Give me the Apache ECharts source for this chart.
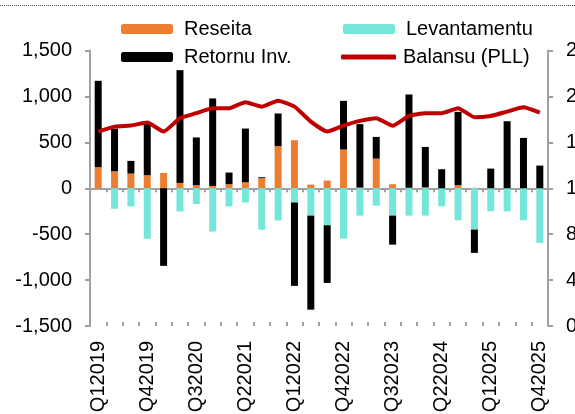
<!DOCTYPE html>
<html>
<head>
<meta charset="utf-8">
<script src="https://cdn.jsdelivr.net/npm/echarts@6/dist/echarts.min.js"></script>
<style>
  html, body { margin: 0; padding: 0; background: #fff; }
  #chart { width: 575px; height: 414px; }
</style>
</head>
<body>
<div id="chart"></div>
<script>
// quarters Q12019 .. Q42025
var quarters = [];
for (var y = 2019; y <= 2025; y++) {
  for (var q = 1; q <= 4; q++) quarters.push('Q' + q + y);
}

var reseita = [230, 185, 160, 142, 167, 58, 33, 25, 44, 65, 110, 458, 523, 40, 84, 422, 8, 323, 44, 5, 10, 0, 33, 5, 0, 0, 0, 0];
var levantamentu = [0, -223, -198, -550, 0, -253, -172, -471, -198, -155, -452, -351, -155, -298, -403, -548, -298, -189, -298, -298, -298, -196, -349, -450, -251, -251, -349, -595];
var retornuInv = [940, 465, 138, 563, -845, 1228, 520, 953, 127, 585, 10, 356, -908, -1024, -628, 530, 690, 236, -316, 1016, 440, 207, 799, -254, 214, 730, 548, 247];
var balansu = [1694, 1737, 1746, 1772, 1694, 1810, 1854, 1897, 1897, 1950, 1911, 1963, 1911, 1781, 1694, 1746, 1787, 1810, 1744, 1830, 1854, 1854, 1897, 1819, 1830, 1868, 1906, 1859];

var fontFam = 'Liberation Sans, Arial, sans-serif';
var axisGray = '#a0a0a0';
var legendText = { fontSize: 20, color: '#000', fontFamily: fontFam, padding: [0, 0, 0, 6] };

var chart = echarts.init(document.getElementById('chart'));
var option = {
  animation: false,
  textStyle: { fontFamily: fontFam },
  graphic: [{
    type: 'line',
    shape: { x1: 0, y1: 5.5, x2: 575, y2: 5.5 },
    style: { stroke: '#444', lineWidth: 1, lineDash: [1, 1] }
  }],
  legend: [{
    data: ['Reseita', 'Retornu Inv.'],
    orient: 'vertical',
    left: 121, top: 19, padding: 0,
    itemWidth: 52, itemHeight: 10, itemGap: 8,
    textStyle: legendText
  }, {
    data: ['Levantamentu'],
    left: 343, top: 19, padding: 0,
    itemWidth: 52, itemHeight: 10,
    textStyle: legendText
  }, {
    data: [{ name: 'Balansu (PLL)', icon: 'roundRect' }],
    left: 341, top: 47, padding: 0,
    itemWidth: 55, itemHeight: 5,
    textStyle: { fontSize: 20, color: '#000', fontFamily: fontFam, padding: [0, 0, 0, 2] }
  }],
  grid: { left: 90, right: 27, top: 50.5, bottom: 88, outerBoundsMode: 'none', containLabel: false },
  xAxis: [{
    type: 'category',
    data: quarters,
    position: 'bottom',
    axisLine: { show: false, onZero: false },
    axisTick: { show: false },
    axisLabel: { interval: 2, rotate: 90, margin: 15, fontSize: 20, color: '#000', fontFamily: fontFam }
  }, {
    type: 'category',
    data: quarters,
    position: 'bottom',
    axisLine: { show: true, onZero: true, lineStyle: { color: axisGray, width: 2 } },
    axisTick: { show: true, interval: 0, length: 4, lineStyle: { color: axisGray, width: 2 } },
    axisLabel: { show: false }
  }, {
    type: 'category',
    data: quarters,
    position: 'bottom',
    axisLine: { show: false, onZero: true },
    axisTick: { show: true, inside: true, interval: 0, length: 4, lineStyle: { color: axisGray, width: 2 } },
    axisLabel: { show: false }
  }],
  yAxis: [{
    type: 'value',
    min: -1500, max: 1500, interval: 500,
    axisLine: { show: true, lineStyle: { color: axisGray, width: 2 } },
    axisTick: { show: true, length: 5, lineStyle: { color: axisGray, width: 2 } },
    splitLine: { show: false },
    axisLabel: { margin: 18, fontSize: 20, color: '#000', fontFamily: fontFam }
  }, {
    type: 'value',
    position: 'right',
    min: 0, max: 2400, interval: 400,
    axisLine: { show: true, lineStyle: { color: axisGray, width: 2 } },
    axisTick: { show: true, length: 5, lineStyle: { color: axisGray, width: 2 } },
    splitLine: { show: false },
    axisLabel: { margin: 18, fontSize: 20, color: '#000', fontFamily: fontFam }
  }],
  series: [{
    name: 'Reseita',
    type: 'bar',
    stack: 'flux',
    barWidth: 7,
    itemStyle: { color: '#ED7D31' },
    data: reseita
  }, {
    name: 'Levantamentu',
    type: 'bar',
    stack: 'flux',
    barWidth: 7,
    itemStyle: { color: '#75E6DA' },
    data: levantamentu
  }, {
    name: 'Retornu Inv.',
    type: 'bar',
    stack: 'flux',
    barWidth: 7,
    itemStyle: { color: '#000000' },
    data: retornuInv
  }, {
    name: 'Balansu (PLL)',
    type: 'line',
    yAxisIndex: 1,
    symbol: 'none',
    smooth: 0.15,
    lineStyle: { color: '#C00000', width: 4 },
    itemStyle: { color: '#C00000' },
    z: 5,
    data: balansu
  }]
};
chart.setOption(option);
</script>
</body>
</html>
